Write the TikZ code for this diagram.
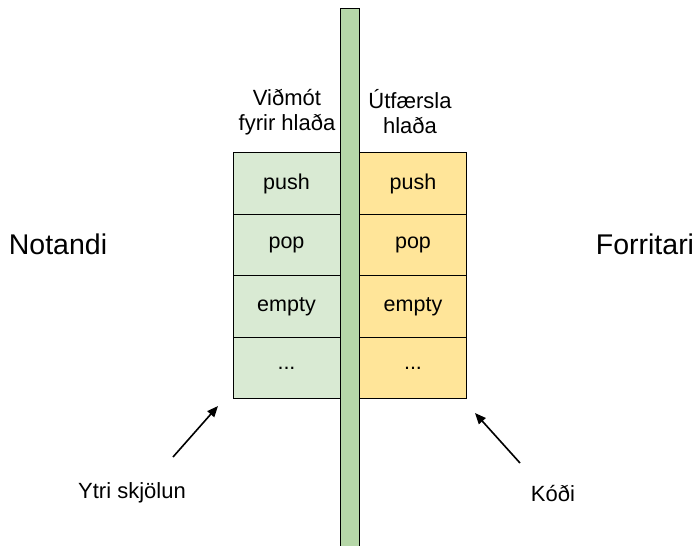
\documentclass[tikz,border=0pt]{standalone}
\usepackage{fontspec}
\setmainfont{Liberation Sans}
\usetikzlibrary{arrows.meta}

\definecolor{ifacegreen}{HTML}{D9EAD3}
\definecolor{wallgreen}{HTML}{B6D7A8}
\definecolor{implyellow}{HTML}{FFE599}

\tikzstyle{cell} = [draw, line width=1pt, minimum width=107pt, minimum height=61.5pt, inner sep=0pt, font=\fontsize{21.5}{25}\selectfont]
\tikzstyle{iface} = [cell, fill=ifacegreen]
\tikzstyle{impl} = [cell, fill=implyellow]
\tikzstyle{head} = [align=center, font=\fontsize{22}{25}\selectfont]
\tikzstyle{side} = [font=\fontsize{28.5}{32}\selectfont]
\tikzstyle{note} = [font=\fontsize{22}{25}\selectfont]
\tikzstyle{pointer} = [-{Triangle[length=11pt,width=9pt]}, line width=1.6pt]

\begin{document}
\begin{tikzpicture}[x=1pt, y=-1pt]
  \useasboundingbox (0,0) rectangle (697,546);
  % stack interface (left) and implementation (right)
  \node (lpush) at (286.5,183.5) [iface] {push};
  \node (lpop) at (286.5,245) [iface] {pop};
  \node (lempty) at (286.5,306.5) [iface] {empty};
  \node (ldots) at (286.5,368) [iface] {...};
  \node (rpush) at (413,183.5) [impl] {push};
  \node (rpop) at (413,245) [impl] {pop};
  \node (rempty) at (413,306.5) [impl] {empty};
  \node (rdots) at (413,368) [impl] {...};
  % the wall between them
  \draw [line width=1pt, fill=wallgreen] (340,8) rectangle (359,552);
  \node (ihead) at (287,112) [head] {Viðmót\\fyrir hlaða};
  \node (ohead) at (410,112) [head] {Útfærsla\\hlaða};
  \node (user) at (58,244) [side] {Notandi};
  \node (dev) at (645,244) [side] {Forritari};
  \node (ytri) at (132,493) [note] {Ytri skjölun};
  \node (kodi) at (553,493) [note] {Kóði};
  \coordinate (ytritail) at (173,457);
  \coordinate (ytritip) at (218,406);
  \coordinate (koditail) at (520,463);
  \coordinate (koditip) at (475,413);
  \draw [pointer] (ytritail) -- (ytritip);
  \draw [pointer] (koditail) -- (koditip);
\end{tikzpicture}
\end{document}
